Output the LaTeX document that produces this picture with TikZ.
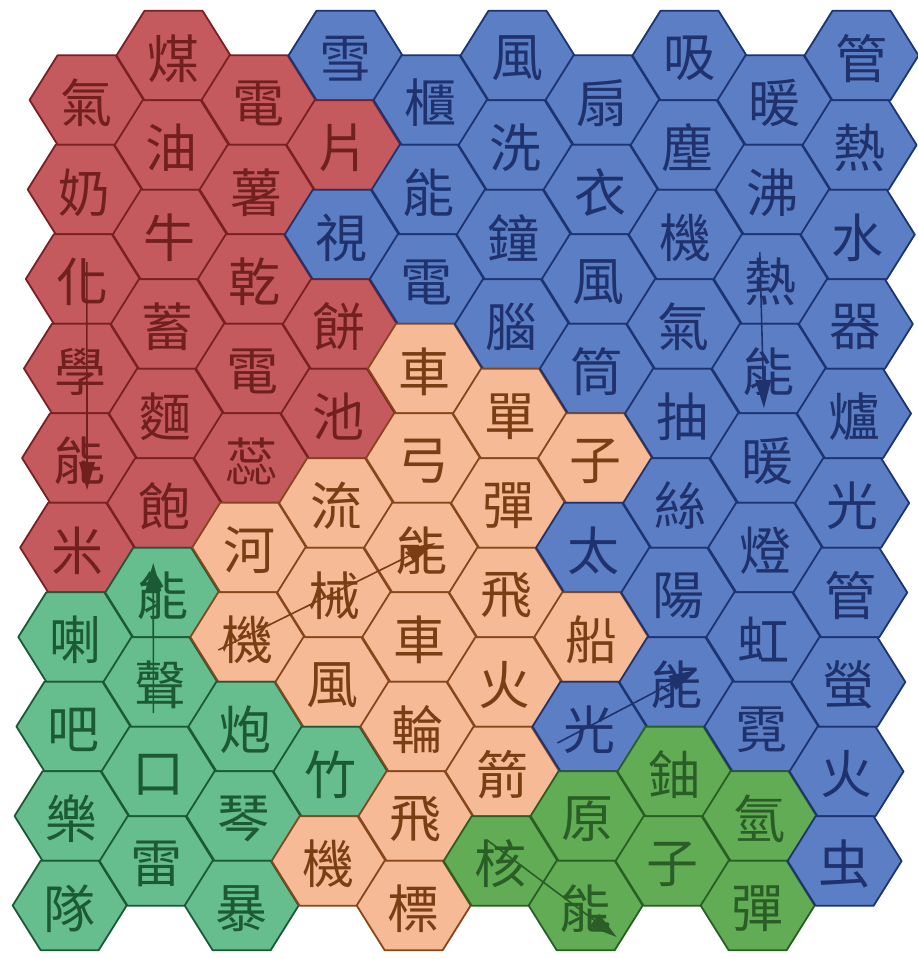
\documentclass[tikz,border=0pt]{standalone}
\usepackage{fontspec}
\newfontfamily\cjk{Noto Sans CJK TC}
\usetikzlibrary{calc}
\definecolor{fillR}{HTML}{C45A5E}
\definecolor{lineR}{HTML}{7A2024}
\definecolor{textR}{HTML}{72201F}
\definecolor{fillB}{HTML}{5B7EC5}
\definecolor{lineB}{HTML}{1C3472}
\definecolor{textB}{HTML}{1F326E}
\definecolor{fillO}{HTML}{F7BA97}
\definecolor{lineO}{HTML}{87461B}
\definecolor{textO}{HTML}{7B3E14}
\definecolor{fillT}{HTML}{66BD8E}
\definecolor{lineT}{HTML}{1B5A36}
\definecolor{textT}{HTML}{1B5A34}
\definecolor{fillG}{HTML}{62AC55}
\definecolor{lineG}{HTML}{285F23}
\definecolor{textG}{HTML}{2B5E27}
\def\cells{
 0/{氣/R,奶/R,化/R,學/R,能/R,米/R,喇/T,吧/T,樂/T,隊/T},
 1/{煤/R,油/R,牛/R,蓄/R,麵/R,飽/R,能/T,聲/T,口/T,雷/T},
 2/{電/R,薯/R,乾/R,電/R,蕊/R,河/O,機/O,炮/T,琴/T,暴/T},
 3/{雪/B,片/R,視/B,餅/R,池/R,流/O,械/O,風/O,竹/T,機/O},
 4/{櫃/B,能/B,電/B,車/O,弓/O,能/O,車/O,輪/O,飛/O,標/O},
 5/{風/B,洗/B,鐘/B,腦/B,單/O,彈/O,飛/O,火/O,箭/O,核/G},
 6/{扇/B,衣/B,風/B,筒/B,子/O,太/B,船/O,光/B,原/G,能/G},
 7/{吸/B,塵/B,機/B,氣/B,抽/B,絲/B,陽/B,能/B,鈾/G,子/G},
 8/{暖/B,沸/B,熱/B,能/B,暖/B,燈/B,虹/B,霓/B,氫/G,彈/G},
 9/{管/B,熱/B,水/B,器/B,爐/B,光/B,管/B,螢/B,火/B,虫/B}}
% energy arrow: colour, start, end, name prefix
\newcommand\enarrow[4]{%
  \coordinate (#4-b) at ($(#3)!28pt!(#2)$);
  \draw[energyline,draw=#1] (#2) -- (#4-b);
  \fill[#1] (#3) -- ($(#4-b)!8pt!90:(#3)$) -- ($(#4-b)!8pt!-90:(#3)$) -- cycle;}
\begin{document}
\begin{tikzpicture}[x=1pt,y=-1pt,
  hexcell/.style={line width=1.8pt,line join=round},
  celltext/.style={font=\cjk\fontsize{52}{52}\selectfont,inner sep=0pt},
  energyline/.style={line width=1.6pt}]
\fill[white] (0,0) rectangle (918,959);
\useasboundingbox (0,0) rectangle (918,959);
% hexagon cells
\foreach \c/\items in \cells {
  \foreach \ch/\st [count=\k from 0] in \items {
    \pgfmathsetmacro\yy{100+89.5*\k-44.5*mod(\c,2)}
    \pgfmathsetmacro\xx{87+86*\c-0.021*(\yy-80)}
    \draw[hexcell,fill=fill\st,draw=line\st] (\xx,\yy) +(-57,0) -- +(-29,-44.75) -- +(29,-44.75) -- +(57,0) -- +(29,44.75) -- +(-29,44.75) -- cycle;
  }
}
% texts
\foreach \c/\items in \cells {
  \foreach \ch/\st [count=\k from 0] in \items {
    \pgfmathsetmacro\yy{100+89.5*\k-44.5*mod(\c,2)}
    \pgfmathsetmacro\xx{87+86*\c-0.021*(\yy-80)}
    \coordinate (h-\c-\k) at (\xx,\yy);
    \node[celltext,text=text\st] (t-\c-\k) at (\xx,\yy+3) {\ch};
  }
}
% energy arrows
\coordinate (r-s) at ($(h-0-2)+(4,-17)$);
\coordinate (r-e) at ($(h-0-4)+(8,32)$);
\coordinate (b-s) at ($(h-8-2)+(-11,-27)$);
\coordinate (b-e) at ($(h-8-3)+(-5,39.5)$);
\coordinate (o-s) at ($(h-2-6)+(-29,13)$);
\coordinate (o-e) at ($(h-4-5)+(14,-4.5)$);
\coordinate (t-s) at ($(h-1-7)+(-7,31)$);
\coordinate (t-e) at ($(h-1-6)+(-9,-29.5)$);
\coordinate (l-s) at ($(h-6-7)+(-32,16.5)$);
\coordinate (l-e) at ($(h-7-7)+(20.6,-12)$);
\coordinate (g-s) at ($(h-5-9)+(-13.6,-21)$);
\coordinate (g-e) at ($(h-6-9)+(31,31.5)$);
\enarrow{textR}{r-s}{r-e}{ar}
\enarrow{textB}{b-s}{b-e}{ab}
\enarrow{textO}{o-s}{o-e}{ao}
\enarrow{textT}{t-s}{t-e}{at}
\enarrow{textB}{l-s}{l-e}{al}
\enarrow{textG}{g-s}{g-e}{ag}
\end{tikzpicture}
\end{document}
